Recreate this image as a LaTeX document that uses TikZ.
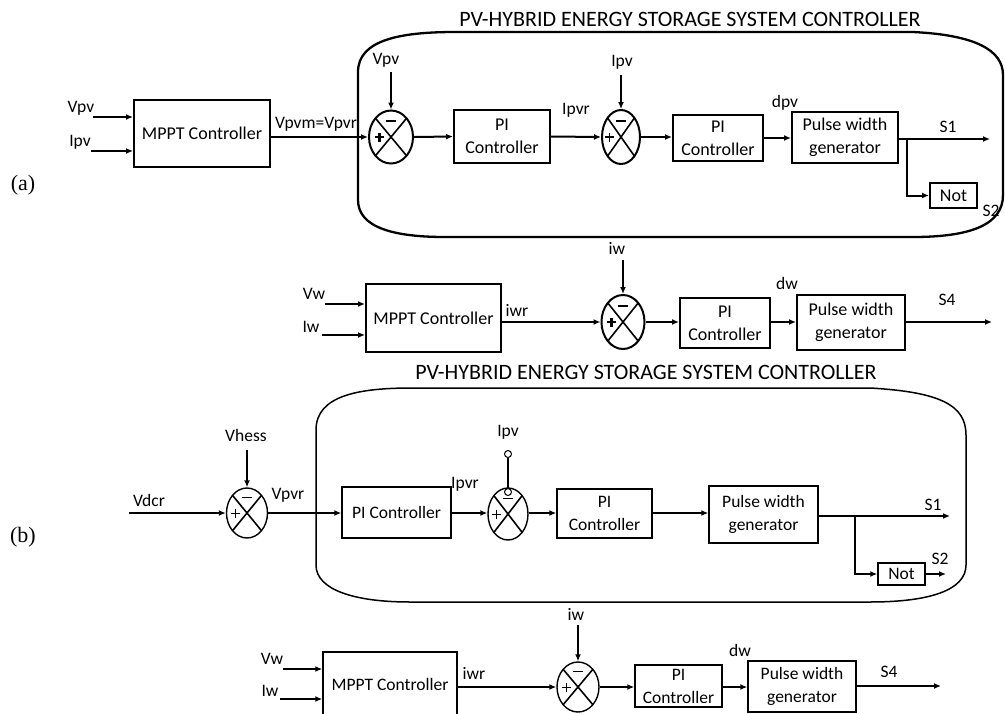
\documentclass[tikz,border=0pt]{standalone}
\usepackage{fontspec}
\setmainfont{Carlito}
\newfontfamily\serifx{Liberation Serif}
\usetikzlibrary{arrows.meta,shapes.geometric,calc}
\tikzset{
 blk/.style={draw,line width=2pt,align=center,inner sep=0pt,font=\fontsize{18}{23}\selectfont},
 blkb/.style={blk,line width=1.4pt,font=\fontsize{17.5}{23}\selectfont},
 lbl/.style={inner sep=0pt,font=\fontsize{17.5}{19}\selectfont},
 ttl/.style={inner sep=0pt,font=\fontsize{22}{24}\selectfont},
 tag/.style={inner sep=0pt,font=\serifx\fontsize{22}{24}\selectfont},
 arr/.style={line width=2pt,-{Latex[length=7pt,width=6pt]}},
 arrb/.style={line width=1.4pt,-{Latex[length=7pt,width=6pt]}},
 lnb/.style={line width=1.4pt},
 region/.style={line width=2.3pt},
 regionb/.style={line width=1.5pt},
 sumj/.style={ellipse,draw,line width=2pt,inner sep=0pt,
   path picture={\draw[line width=1.6pt]
     (path picture bounding box.north west) -- (path picture bounding box.south east)
     (path picture bounding box.north east) -- (path picture bounding box.south west);}},
 sumjb/.style={sumj,line width=1.4pt},
 tap/.style={circle,draw,line width=1pt,fill=white,inner sep=0pt,minimum size=7pt},
}
\newcommand\sgns[2]{%
 \draw[line width=#2] ($(#1.center)+(-16,0)$) -- ($(#1.center)+(-7,0)$)
   ($(#1.center)+(-11.5,-4.5)$) -- ($(#1.center)+(-11.5,4.5)$);
 \draw[line width=#2] ($(#1.center)+(-5,-16)$) -- ($(#1.center)+(5,-16)$);
}
\begin{document}
\begin{tikzpicture}[x=1pt,y=-1pt]
\useasboundingbox (0,0) rectangle (1005,713);
\clip (0,0) rectangle (1005,713);
\fill[white] (0,0) rectangle (1005,713);

% ================= (a) =================
\node[tag] (taga) at (23,185) {(a)};
\node[ttl] (titlea) at (690,19) {PV-HYBRID ENERGY STORAGE SYSTEM CONTROLLER};
\draw[region] (455,32) -- (913,32) .. controls (975,35) and (1003,50) .. (1003,75)
  -- (1003,195) .. controls (1003,225) and (970,237) .. (913,237)
  -- (445,237) .. controls (395,237) and (358,228) .. (358,200)
  -- (358,72) .. controls (358,40) and (400,32) .. (455,32);

\node[blk,minimum width=136,minimum height=67] (mppt1) at (202,133) {MPPT Controller};
\coordinate (vpvin) at (93,117);
\coordinate (ipvin) at (91,151);
\node[lbl] (lvpv) at (81,108) {Vpv};
\node[lbl] (lipv) at (80,142) {Ipv};
\draw[arr] (vpvin) -- (vpvin -| mppt1.west);
\draw[arr] (ipvin) -- (ipvin -| mppt1.west);

\node[sumj,minimum width=44,minimum height=53] (s1) at (391,137) {};
\sgns{s1}{2.2pt}
\node[lbl] (lvpvm) at (316,124) {Vpvm=Vpvr};
\draw[arr] (mppt1.east |- s1) -- (s1.west);
\coordinate (vpvtop) at (391,72);
\node[lbl] (lvpv2) at (386,60) {Vpv};
\draw[arr] (vpvtop) -- (s1.north);

\node[blk,minimum width=96,minimum height=53] (pi1) at (502,136.5) {PI\\Controller};
\draw[arr] (s1.east) -- (pi1.west);
\node[lbl] (lipvr) at (576,110) {Ipvr};

\node[sumj,minimum width=38,minimum height=54] (s2) at (621,137) {};
\sgns{s2}{1.6pt}
\draw[arr] (pi1.east) -- (s2.west);
\coordinate (ipvtop) at (621,75);
\node[lbl] (lipv2) at (622,62) {Ipv};
\draw[arr] (ipvtop) -- (s2.north);

\node[blk,minimum width=90,minimum height=46] (pi2) at (718,138) {PI\\Controller};
\draw[arr] (s2.east) -- (s2.east -| pi2.west);
\node[lbl] (ldpv) at (785,103) {dpv};

\node[blk,minimum width=106,minimum height=51] (pwg1) at (845,137.5) {Pulse width\\generator};
\draw[arr] (pi2.east) -- (pi2.east -| pwg1.west);

\coordinate (s1end) at (990,139);
\coordinate (br1) at (907,139);
\node[blk,minimum width=47,minimum height=25] (not1) at (953.5,195.5) {Not};
\draw[arr] (pwg1.east |- s1end) -- (s1end);
\draw[arr] (br1) |- (not1.west);
\node[lbl] (ls1) at (948,127) {S1};
\node[lbl] (ls2) at (991,211) {S2};

% ---- (a) wind row ----
\node[blk,minimum width=135,minimum height=68] (mppt2) at (433.5,318) {MPPT Controller};
\coordinate (vwin) at (325,304);
\coordinate (iwin) at (322,335);
\node[lbl] (lvw) at (314,294) {Vw};
\node[lbl] (liw) at (311,327) {Iw};
\draw[arr] (vwin) -- (vwin -| mppt2.west);
\draw[arr] (iwin) -- (iwin -| mppt2.west);

\node[sumj,minimum width=43,minimum height=54] (s3) at (623,322) {};
\sgns{s3}{2.2pt}
\draw[arr] (mppt2.east |- s3) -- (s3.west);
\node[lbl] (liwr) at (517,310) {iwr};
\coordinate (iwtop) at (623,260);
\node[lbl] (liw2) at (617,248) {iw};
\draw[arr] (iwtop) -- (s3.north);

\node[blk,minimum width=90,minimum height=50] (pi3) at (725,323) {PI\\Controller};
\draw[arr] (s3.east) -- (s3.east -| pi3.west);
\node[lbl] (ldw) at (787,283) {dw};
\node[blk,minimum width=108,minimum height=55] (pwg2) at (851,322.5) {Pulse width\\generator};
\draw[arr] (pi3.east |- s3) -- (s3 -| pwg2.west);
\coordinate (s4end) at (992,322);
\draw[arr] (pwg2.east |- s4end) -- (s4end);
\node[lbl] (ls4) at (947,300) {S4};

% ================= (b) =================
\node[tag] (tagb) at (23,537) {(b)};
\node[ttl] (titleb) at (646,372) {PV-HYBRID ENERGY STORAGE SYSTEM CONTROLLER};
\draw[regionb] (412,388) -- (870,388) .. controls (940,392) and (966,405) .. (966,435)
  -- (966,565) .. controls (966,590) and (930,602) .. (870,602)
  -- (410,602) .. controls (355,602) and (316,590) .. (316,565)
  -- (316,430) .. controls (316,395) and (360,388) .. (412,388);

\node[sumjb,minimum width=41,minimum height=50] (sb1) at (247,513) {};
\sgns{sb1}{1pt}
\coordinate (vdcrin) at (129,513);
\node[lbl] (lvdcr) at (149,500) {Vdcr};
\draw[arrb] (vdcrin) -- (sb1.west);
\coordinate (vhesstop) at (247,450);
\node[lbl] (lvhess) at (246,435) {Vhess};
\draw[arrb] (vhesstop) -- (sb1.north);
\node[lbl] (lvpvr) at (288,495) {Vpvr};

\node[blkb,minimum width=109,minimum height=51] (pib1) at (396.5,512.5) {PI Controller};
\draw[arrb] (sb1.east) -- (sb1.east -| pib1.west);
\node[lbl] (lipvrb) at (465,484) {Ipvr};

\node[sumjb,minimum width=40,minimum height=52] (sb2) at (508,514) {};
\sgns{sb2}{1pt}
\draw[arrb] (pib1.east |- sb1) -- (sb1 -| sb2.west);
\node[lbl] (lipvb) at (508,432) {Ipv};
\node[tap] (tp1) at (508,454) {};
\node[tap] (tp2) at (508,492) {};
\draw[lnb] (tp1) -- (tp2);

\node[blkb,minimum width=95,minimum height=49] (pib2) at (604.5,513.5) {PI\\Controller};
\draw[arrb] (sb2.east |- sb1) -- (sb1 -| pib2.west);
\node[blkb,minimum width=109,minimum height=57] (pwgb) at (763.5,514.5) {Pulse width\\generator};
\draw[arrb] (pib2.east |- sb1) -- (sb1 -| pwgb.west);

\coordinate (s1bend) at (950,516);
\coordinate (br2) at (855,516);
\node[blkb,minimum width=47,minimum height=22] (notb) at (901.5,574) {Not};
\draw[arrb] (pwgb.east |- s1bend) -- (s1bend);
\draw[arrb] (br2) |- (notb.west);
\coordinate (s2bend) at (946,574);
\draw[arrb] (notb.east) -- (s2bend);
\node[lbl] (ls1b) at (933,505) {S1};
\node[lbl] (ls2b) at (940,559) {S2};

% ---- (b) wind row ----
\node[blkb,minimum width=134,minimum height=64] (mpptb) at (390,684) {MPPT Controller};
\coordinate (vwinb) at (283,669);
\coordinate (iwinb) at (280,699);
\node[lbl] (lvwb) at (272,659) {Vw};
\node[lbl] (liwb) at (270,691) {Iw};
\draw[arrb] (vwinb) -- (vwinb -| mpptb.west);
\draw[arrb] (iwinb) -- (iwinb -| mpptb.west);

\node[sumjb,minimum width=42,minimum height=50] (sb3) at (578,687) {};
\sgns{sb3}{1pt}
\draw[arrb] (mpptb.east |- sb3) -- (sb3.west);
\node[lbl] (liwrb) at (474,673) {iwr};
\coordinate (iwtopb) at (578,625);
\node[lbl] (liwb2) at (576,614) {iw};
\draw[arrb] (iwtopb) -- (sb3.north);

\node[blkb,minimum width=87,minimum height=42] (pib3) at (678.5,686) {PI\\Controller};
\draw[arrb] (sb3.east) -- (sb3.east -| pib3.west);
\node[lbl] (ldwb) at (740,650) {dw};
\node[blkb,minimum width=108,minimum height=51] (pwgb2) at (802,686.5) {Pulse width\\generator};
\draw[arrb] (pib3.east |- sb3) -- (sb3 -| pwgb2.west);
\coordinate (s4bend) at (941,686);
\draw[arrb] (pwgb2.east |- s4bend) -- (s4bend);
\node[lbl] (ls4b) at (889,672) {S4};
\end{tikzpicture}
\end{document}
